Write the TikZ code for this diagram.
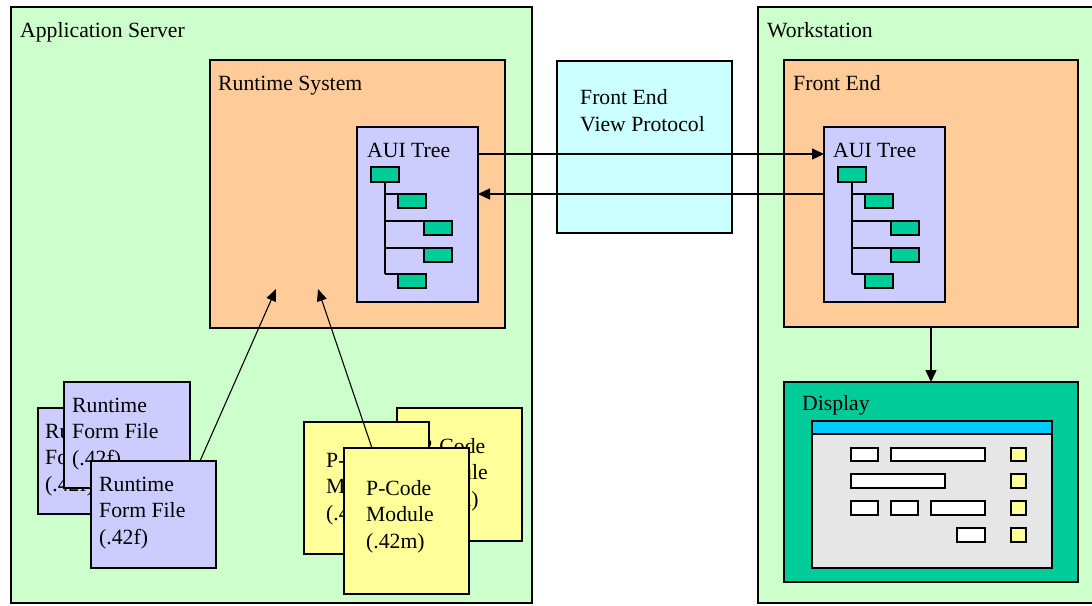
\documentclass[tikz,border=0pt]{standalone}
\usepackage{fontspec}
\setmainfont{Liberation Serif}
\usetikzlibrary{arrows.meta}
\definecolor{srvgreen}{HTML}{CCFFCC}
\definecolor{rtorange}{HTML}{FFCC99}
\definecolor{auiblue}{HTML}{CCCCFF}
\definecolor{protocyan}{HTML}{CCFFFF}
\definecolor{treegreen}{HTML}{00CC99}
\definecolor{titlecyan}{HTML}{00CCFF}
\definecolor{wingray}{HTML}{E6E6E6}
\definecolor{pcyellow}{HTML}{FFFF99}
\tikzset{
  box/.style={draw=black, line width=1.4pt, inner sep=0pt, outer sep=0pt, anchor=north west},
  lbl/.style={anchor=base west, inner sep=0pt, font=\fontsize{21.7}{27}\selectfont},
  arr/.style={line width=1.4pt, -{Triangle[length=12pt,width=11pt]}},
  arrthin/.style={line width=1.1pt, -{Triangle[length=12pt,width=10pt]}},
  treeline/.style={line width=1.4pt},
}
% name, style, x1, y1, x2, y2
\newcommand\rbox[6]{\node[box,#2,minimum width={#5-#3},minimum height={#6-#4}] (#1) at (#3,#4) {};}
% name, x, y, line1, line2, line3
\newcommand\threelines[6]{%
  \node[lbl] (#1a) at (#2,#3) {#4};
  \node[lbl] (#1b) at (#2,{#3+26.5}) {#5};
  \node[lbl] (#1c) at (#2,{#3+53}) {#6};}
% prefix, x, y (top-left of AUI box)
\newcommand\auitree[3]{%
  \node[box,fill=treegreen,minimum width=28,minimum height=15] (#1t1) at ({#2+14},{#3+40}) {};
  \node[box,fill=treegreen,minimum width=28,minimum height=14] (#1t2) at ({#2+41},{#3+67}) {};
  \node[box,fill=treegreen,minimum width=28,minimum height=14] (#1t3) at ({#2+67},{#3+94}) {};
  \node[box,fill=treegreen,minimum width=28,minimum height=14] (#1t4) at ({#2+67},{#3+121}) {};
  \node[box,fill=treegreen,minimum width=28,minimum height=14] (#1t5) at ({#2+41},{#3+147}) {};
  \draw[treeline] (#1t1.south) -- (#1t1.south |- #1t5.north west);
  \foreach \k in {2,...,5} {\draw[treeline] (#1t1.south |- #1t\k.north west) -- (#1t\k.north west);}}
\begin{document}
\begin{tikzpicture}[x=1pt,y=-1pt]
\clip (0,0) rectangle (1092,605);
\fill[white] (0,0) rectangle (1092,605);
% containers
\rbox{srv}{fill=srvgreen}{11}{7}{532}{603}
\node[lbl] (srvlbl) at (20,37) {Application Server};
\rbox{ws}{fill=srvgreen}{758}{7}{1110}{603}
\node[lbl] (wslbl) at (767,37) {Workstation};
\rbox{rt}{fill=rtorange}{210}{60}{505}{328}
\node[lbl] (rtlbl) at (218,90) {Runtime System};
\rbox{proto}{fill=protocyan}{557}{61}{732}{233}
\node[lbl] (protoa) at (580,104) {Front End};
\node[lbl] (protob) at (580,131) {View Protocol};
\rbox{fe}{fill=rtorange}{784}{60}{1078}{327}
\node[lbl] (felbl) at (793,90) {Front End};
% AUI trees
\rbox{auiL}{fill=auiblue}{357}{127}{478}{302}
\node[lbl] (auiLlbl) at (367,157) {AUI Tree};
\auitree{L}{357}{127}
\rbox{auiR}{fill=auiblue}{824}{127}{945}{302}
\node[lbl] (auiRlbl) at (833,157) {AUI Tree};
\auitree{R}{824}{127}
% display
\rbox{disp}{fill=treegreen}{784}{382}{1078}{582}
\node[lbl] (displbl) at (802,410) {Display};
\rbox{win}{fill=wingray}{812}{421}{1052}{568}
\rbox{bar}{fill=titlecyan}{812}{421}{1052}{434}
\rbox{c1}{fill=white}{851}{448}{878}{461}
\rbox{c2}{fill=white}{891}{448}{985}{461}
\rbox{c3}{fill=white}{851}{474}{945}{488}
\rbox{c4}{fill=white}{851}{501}{878}{515}
\rbox{c5}{fill=white}{891}{501}{918}{515}
\rbox{c6}{fill=white}{931}{501}{985}{515}
\rbox{c7}{fill=white}{957}{528}{985}{542}
\rbox{q1}{fill=pcyellow}{1011}{448}{1026}{461}
\rbox{q2}{fill=pcyellow}{1011}{474}{1026}{488}
\rbox{q3}{fill=pcyellow}{1011}{501}{1026}{515}
\rbox{q4}{fill=pcyellow}{1011}{528}{1026}{542}
% runtime form files
\rbox{ff1}{fill=auiblue}{38}{408}{164}{514}
\threelines{ffa}{45}{438}{Runtime}{Form File}{(.42f)}
\rbox{ff2}{fill=auiblue}{64}{382}{190}{488}
\threelines{ffb}{72}{412}{Runtime}{Form File}{(.42f)}
\rbox{ff3}{fill=auiblue}{91}{461}{216}{568}
\threelines{ffc}{99}{491}{Runtime}{Form File}{(.42f)}
% p-code modules
\rbox{pc1}{fill=pcyellow}{397}{408}{522}{541}
\threelines{pca}{420}{453}{P-Code}{Module}{(.42m)}
\rbox{pc2}{fill=pcyellow}{304}{422}{429}{554}
\threelines{pcb}{326}{467}{P-Code}{Module}{(.42m)}
\rbox{pc3}{fill=pcyellow}{344}{448}{469}{594}
\threelines{pcc}{366}{495}{P-Code}{Module}{(.42m)}
% connectors
\coordinate (ya) at (0,154);
\coordinate (yb) at (0,194);
\coordinate (xd) at (931,0);
\coordinate (xa) at (200,0);
\coordinate (xb) at (372,0);
\coordinate (tip1) at (276,289);
\coordinate (tip2) at (318,289);
\draw[arr] (auiL.east |- ya) -- (auiR.west |- ya);
\draw[arr] (auiR.west |- yb) -- (auiL.east |- yb);
\draw[arr] (fe.south -| xd) -- (disp.north -| xd);
\draw[arrthin] (ff3.north -| xa) -- (tip1);
\draw[arrthin] (pc3.north -| xb) -- (tip2);
\end{tikzpicture}
\end{document}
